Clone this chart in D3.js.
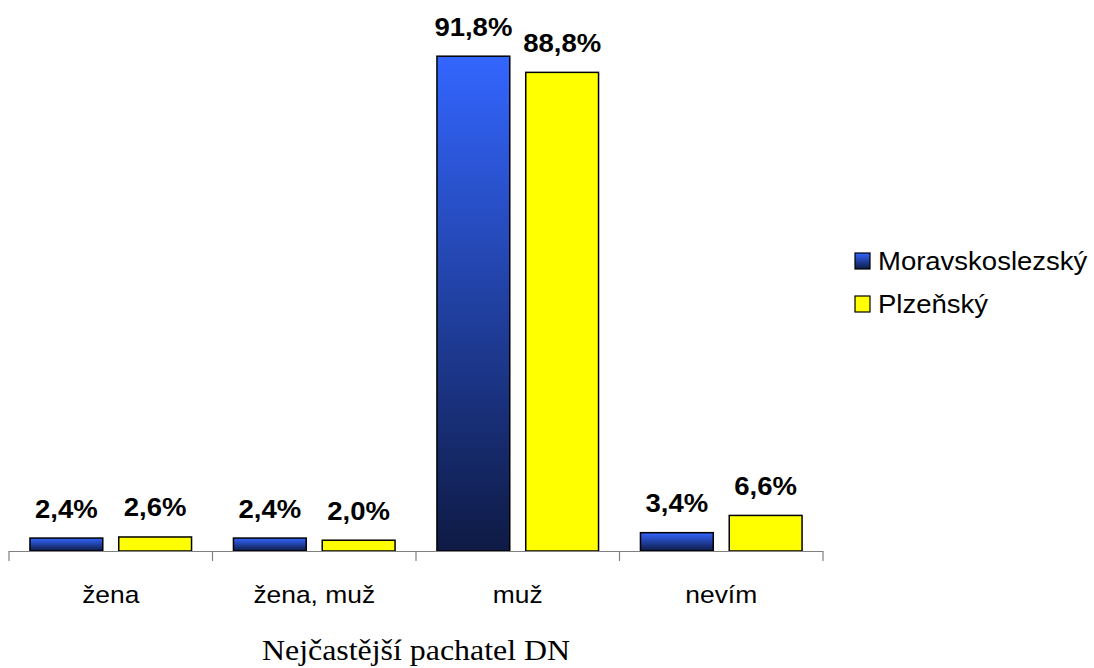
<!DOCTYPE html>
<html>
<head>
<meta charset="utf-8">
<script src="https://cdn.jsdelivr.net/npm/d3@7"></script>
<style>
  body { margin: 0; background: #fff; }
  svg { display: block; }
</style>
</head>
<body>
<svg id="chart" width="1094" height="668"></svg>
<script>
// Categories, series and values (percent)
const categories = ["žena", "žena, muž", "muž", "nevím"];
const seriesNames = ["Moravskoslezský", "Plzeňský"];
const moravskoslezsky = [2.4, 2.4, 91.8, 3.4];
const plzensky = [2.6, 2.0, 88.8, 6.6];
const axisTitle = "Nejčastější pachatel DN";

const seriesValues = [moravskoslezsky, plzensky];
const rows = categories.map((c, i) => ({
  category: c,
  values: seriesNames.map((s, j) => ({ series: s, value: seriesValues[j][i] }))
}));

const svg = d3.select("#chart");
const margin = { left: 9, right: 271, top: 12, bottom: 117 };
const W = 1094, H = 668;
const baseY = H - margin.bottom; // 551
const SX = 1.1; // horizontal stretch applied to all text
const SANS = "Arial, 'Liberation Sans', sans-serif";

const x0 = d3.scaleBand().domain(categories)
  .range([margin.left, W - margin.right]).padding(0);
const x1 = d3.scaleBand().domain(seriesNames)
  .range([0, x0.bandwidth()]).paddingInner(0.18).paddingOuter(0.236);
const y = d3.scaleLinear().domain([0, 100]).range([baseY, margin.top]);

// Gradient fill for the first series: bright blue at top, dark navy at bottom
const defs = svg.append("defs");
const grad = defs.append("linearGradient").attr("id", "blueGrad")
  .attr("x1", 0).attr("y1", 0).attr("x2", 0).attr("y2", 1);
grad.append("stop").attr("offset", "0%").attr("stop-color", "#3366ff");
grad.append("stop").attr("offset", "100%").attr("stop-color", "#0e1a44");

const fills = { "Moravskoslezský": "url(#blueGrad)", "Plzeňský": "#ffff00" };

// Bars
const groups = svg.append("g").selectAll("g").data(rows).join("g")
  .attr("transform", d => `translate(${x0(d.category)},0)`);

groups.selectAll("rect").data(d => d.values).join("rect")
  .attr("x", d => x1(d.series))
  .attr("y", d => y(d.value))
  .attr("width", x1.bandwidth())
  .attr("height", d => baseY - y(d.value))
  .attr("fill", d => fills[d.series])
  .attr("stroke", "#000")
  .attr("stroke-width", 1.5);

// Value labels
groups.selectAll("text").data(d => d.values).join("text")
  .attr("transform", d => `translate(${x1(d.series) + x1.bandwidth() / 2},${y(d.value) - 20.5}) scale(${SX},1)`)
  .attr("text-anchor", "middle")
  .attr("font-family", SANS)
  .attr("font-weight", "bold")
  .attr("font-size", 25)
  .attr("fill", "#000")
  .text(d => d.value.toFixed(1).replace(".", ",") + "%");

// Category axis
const axisG = svg.append("g").attr("stroke", "#808080").attr("stroke-width", 1.2);
axisG.append("line")
  .attr("x1", margin.left).attr("x2", W - margin.right)
  .attr("y1", baseY + 0.5).attr("y2", baseY + 0.5);
const tickPos = categories.map(c => x0(c)).concat([x0(categories[categories.length - 1]) + x0.bandwidth()]);
axisG.selectAll("line.tick").data(tickPos).join("line")
  .attr("class", "tick")
  .attr("x1", d => d).attr("x2", d => d)
  .attr("y1", baseY).attr("y2", baseY + 10);

svg.append("g").selectAll("text").data(categories).join("text")
  .attr("transform", d => `translate(${x0(d) + x0.bandwidth() / 2},603) scale(${SX},1)`)
  .attr("text-anchor", "middle")
  .attr("font-family", SANS)
  .attr("font-size", 24)
  .attr("fill", "#000")
  .text(d => d);

// Axis title
svg.append("text")
  .attr("transform", `translate(${(margin.left + W - margin.right) / 2},660) scale(${SX},1)`)
  .attr("text-anchor", "middle")
  .attr("font-family", "'Liberation Serif', 'Times New Roman', serif")
  .attr("font-size", 29)
  .attr("fill", "#000")
  .text(axisTitle);

// Legend
const legend = svg.append("g").attr("transform", "translate(855,253)");
const items = legend.selectAll("g").data(seriesNames).join("g")
  .attr("transform", (d, i) => `translate(0,${i * 43})`);
items.append("rect")
  .attr("x", 0).attr("y", 0).attr("width", 15).attr("height", 16)
  .attr("fill", d => fills[d])
  .attr("stroke", "#000").attr("stroke-width", 1.2);
items.append("text")
  .attr("transform", `translate(23,17) scale(${SX},1)`)
  .attr("font-family", SANS)
  .attr("font-size", 25)
  .attr("fill", "#000")
  .text(d => d);
</script>
</body>
</html>
